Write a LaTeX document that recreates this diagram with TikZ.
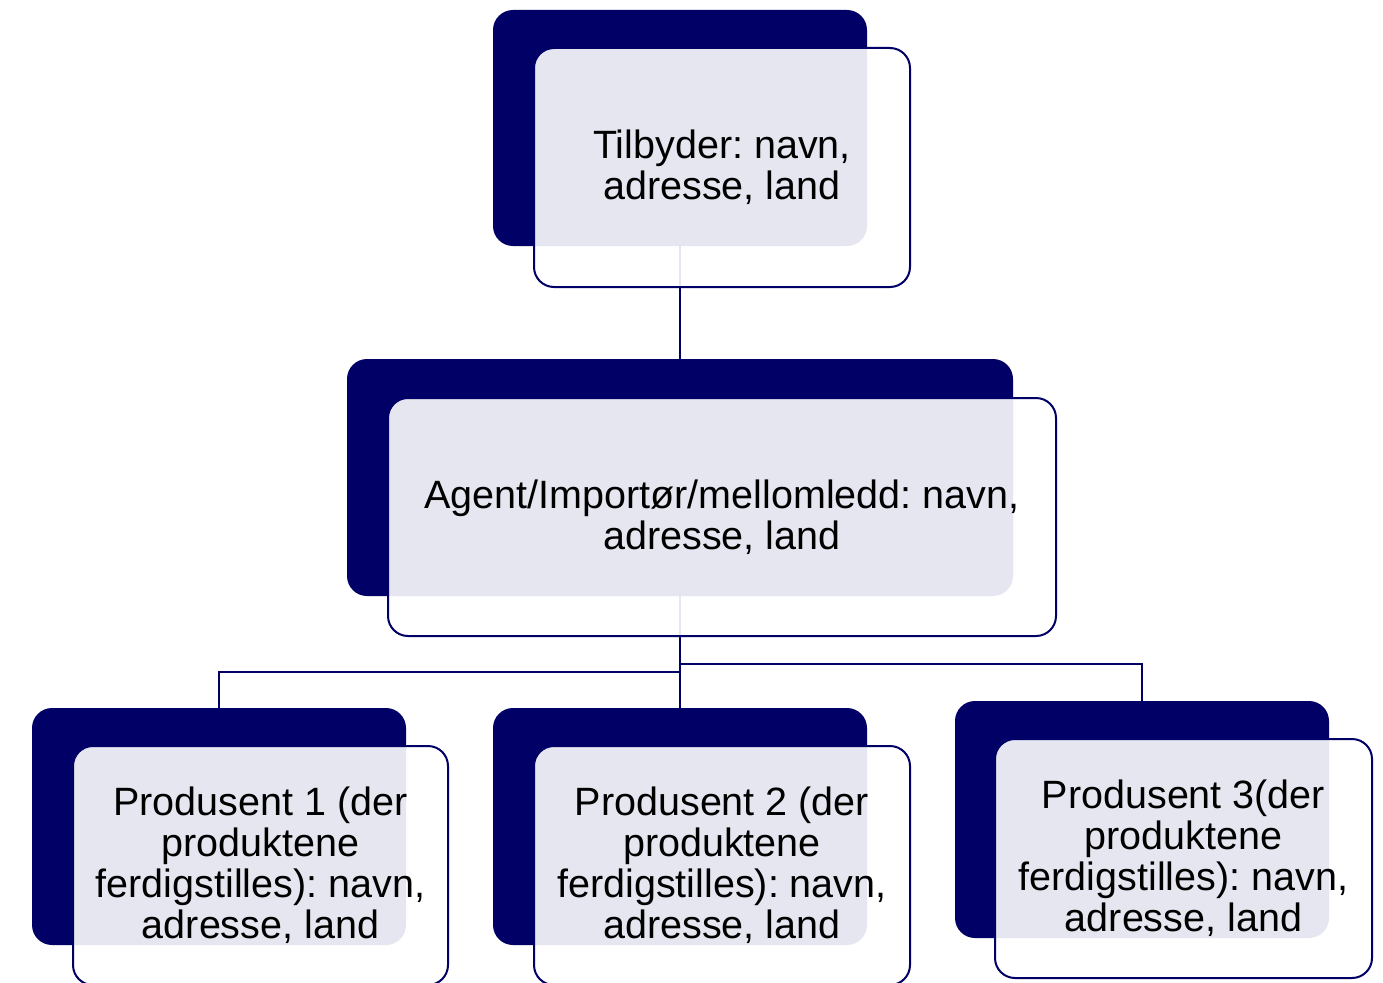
\documentclass[tikz,border=0pt]{standalone}
\usepackage{fontspec}
\setmainfont{Liberation Sans}
\frenchspacing
\definecolor{navy}{RGB}{0,0,102}
\begin{document}
\begin{tikzpicture}[x=1pt,y=-1pt,
  back/.style={fill=navy, rounded corners=20pt, anchor=north west, inner sep=0pt, outer sep=0pt},
  front/.style={draw=navy, line width=2pt, fill=white, fill opacity=0.9, text opacity=1,
    rounded corners=20pt, anchor=north west, inner sep=0pt, outer sep=0pt, align=center,
    font=\fontsize{39.5}{41}\selectfont, execute at begin node={\vspace*{4pt}}},
  link/.style={draw=navy, line width=2pt}]
\useasboundingbox (0,0) rectangle (1383,982);
% dark back plates
\node[back, minimum width=374pt, minimum height=236pt] (tb) at (493,10) {};
\node[back, minimum width=666pt, minimum height=237pt] (mb) at (347,359) {};
\node[back, minimum width=374pt, minimum height=237pt] (p1b) at (32,708) {};
\node[back, minimum width=374pt, minimum height=237pt] (p2b) at (493,708) {};
\node[back, minimum width=374pt, minimum height=237pt] (p3b) at (955,701) {};
% connectors
\draw[link] (tb.south) -- (mb.north);
\draw[link] (mb.south) -- ++(0,76) -| (p1b.north);
\draw[link] (mb.south) -- (p2b.north);
\draw[link] (mb.south) -- ++(0,68) -| (p3b.north);
% front boxes
\node[front, minimum width=376pt, minimum height=239pt] (t) at (534,48) {Tilbyder: navn,\\adresse, land};
\node[front, minimum width=668pt, minimum height=238pt] (m) at (388,398) {Agent/Importør/mellomledd: navn,\\adresse, land};
\node[front, minimum width=375pt, minimum height=239pt] (p1) at (73,746) {Produsent 1 (der\\produktene\\ferdigstilles): navn,\\adresse, land};
\node[front, minimum width=376pt, minimum height=239pt] (p2) at (534,746) {Produsent 2 (der\\produktene\\ferdigstilles): navn,\\adresse, land};
\node[front, minimum width=377pt, minimum height=239pt] (p3) at (995,739) {Produsent 3(der\\produktene\\ferdigstilles): navn,\\adresse, land};
\end{tikzpicture}
\end{document}
